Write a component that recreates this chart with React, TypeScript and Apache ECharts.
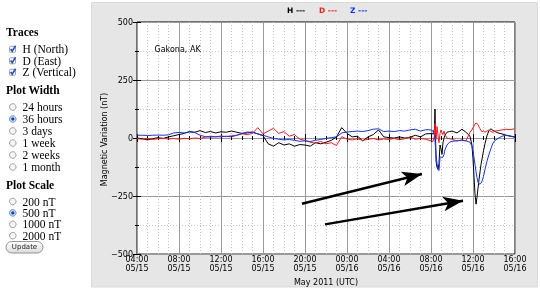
import React, { useEffect, useRef } from "react";
import * as echarts from "echarts";

// Hours after 04:00 UTC on 05/15 (quiet interval, half-hour samples)
const QUIET_HOURS = [
  0, 0.5, 1, 1.5, 2, 2.5, 3, 3.5, 4, 4.5, 5, 5.5, 6, 6.5, 7, 7.5, 8, 8.5, 9, 9.5,
  10, 10.5, 11, 11.5, 12, 12.5, 13, 13.5, 14, 14.5, 15, 15.5, 16, 16.5, 17, 17.5,
  18, 18.5, 19, 19.5, 20, 20.5, 21, 21.5, 22, 22.5, 23, 23.5, 24, 24.5, 25, 25.5,
  26, 26.5, 27, 27.5, 28,
];
// Storm interval, finer samples
const STORM_HOURS = [
  28.19, 28.33, 28.38, 28.48, 28.57, 28.67, 28.76, 28.86, 28.95, 29.05, 29.14,
  29.24, 29.33, 29.52, 29.76, 30, 30.48, 30.95, 31.33, 31.71, 31.9, 32, 32.1,
  32.19, 32.29, 32.38, 32.48, 32.57, 32.67, 32.76, 32.86, 33, 33.14, 33.33, 33.52,
  33.71, 33.9, 34.1, 34.38, 34.76, 35.14, 35.52, 36,
];

const H_QUIET = [
  0, -3, -8, -3, 2, -2, 5, 10, 15, 20, 28, 25, 32, 24, 28, 22, 27, 25, 30, 25, 20,
  22, 26, 18, 10, -25, -35, -20, -30, -25, -35, -28, -30, -35, -20, -25, -18, -10,
  5, 45, 20, 5, 8, -12, 5, 15, 35, 5, 2, 0, 5, 0, 3, 12, 5, 18, 19,
];
const H_STORM = [
  18, 40, 125, -100, -125, -135, -110, -30, -45, -70, -20, 0, 12, 25, 28, 30, 22,
  38, 25, 8, -30, -90, -170, -240, -285, -255, -215, -180, -145, -115, -90, -55,
  -25, 10, 32, 40, 33, 28, 22, 18, 12, 8, 5,
];
const D_QUIET = [
  -3, -5, -2, -6, -3, -1, -4, -2, -5, -1, -3, 0, -2, 4, 8, 5, 9, 6, 10, 12, 18, 15,
  20, 45, 18, 30, 42, 20, 28, 8, 15, -5, -10, -18, -22, -15, -25, -20, -32, 6, -5,
  -8, -3, -10, -5, -2, -8, -4, -6, -2, -7, -3, 5, -5, -2, -5, -12,
];
const D_STORM = [
  -15, 10, 62, -5, 50, 10, -20, 20, 35, 22, 15, 30, 15, 0, -3, -5, -12, -8, -12,
  25, 35, 45, 52, 60, 65, 62, 58, 48, 40, 32, 28, 30, 25, 30, 35, 28, 25, 30, 32,
  35, 38, 36, 40,
];
const Z_QUIET = [
  12, 12, 11, 12, 13, 12, 14, 22, 24, 22, 26, 24, 12, 6, 4, 6, 5, 8, 5, 12, 20, 26,
  24, 18, 12, 5, -2, -5, -8, -6, -10, -14, -12, -15, -10, -6, -2, 2, 5, 22, 26, 28,
  30, 28, 32, 38, 40, 28, 30, 28, 32, 30, 35, 38, 30, 36, 35,
];
const Z_STORM = [
  30, 10, -10, -70, -110, -135, -140, -85, -80, -85, -82, -70, -50, -30, -18, -14,
  -12, -10, -12, -18, -35, -55, -85, -115, -145, -170, -190, -198, -198, -195,
  -185, -165, -135, -100, -70, -45, -22, -10, -2, 8, 12, 10, 2,
];

// Annotation arrows: [startHour, startNT, tipHour, tipNT]
const ARROWS = [
  [15.71, -283, 27.14, -155],
  [17.9, -372, 31.05, -270],
];

const TRACES = ["H (North)", "D (East)", "Z (Vertical)"];
const WIDTHS = ["24 hours", "36 hours", "3 days", "1 week", "2 weeks", "1 month"];
const SCALES = ["200 nT", "500 nT", "1000 nT", "2000 nT"];
const WIDTH_SELECTED = 1;
const SCALE_SELECTED = 1;

const HOURS = [...QUIET_HOURS, ...STORM_HOURS];
const H_VALUES = [...H_QUIET, ...H_STORM];
const D_VALUES = [...D_QUIET, ...D_STORM];
const Z_VALUES = [...Z_QUIET, ...Z_STORM];

const FONT = "DejaVu Sans";
const SERIF = "Liberation Serif";

const pad = (n: number) => (n < 10 ? "0" + n : "" + n);
const timeLabel = (h: number) => {
  const abs = 4 + h;
  const hr = abs % 24;
  const day = 15 + Math.floor(abs / 24);
  return `${pad(hr)}:00\n05/${day}`;
};

function buildPanel() {
  const els: any[] = [];
  const header = (text: string, y: number) =>
    els.push({
      type: "text",
      x: 6,
      y,
      style: {
        text,
        fontFamily: SERIF,
        fontWeight: "bold",
        fontSize: 11.5,
        fill: "#000",
        verticalAlign: "middle",
      },
    });
  const label = (text: string, y: number) =>
    els.push({
      type: "text",
      x: 22.5,
      y,
      style: {
        text,
        fontFamily: SERIF,
        fontSize: 11.5,
        fill: "#000",
        verticalAlign: "middle",
      },
    });
  const checkbox = (y: number) => {
    els.push({
      type: "rect",
      shape: { x: 9.5, y: y - 3, width: 6, height: 6, r: 1 },
      style: { fill: "#fbfbfb", stroke: "#8a8a8a", lineWidth: 0.8 },
    });
    els.push({
      type: "polyline",
      shape: { points: [[10.6, y - 0.3], [12.2, y + 1.8], [15.6, y - 3.6]] },
      style: { stroke: "#1f4fc8", lineWidth: 1.6, fill: null },
    });
  };
  const radio = (y: number, on: boolean) => {
    els.push({
      type: "circle",
      shape: { cx: 12.8, cy: y, r: 3.3 },
      style: {
        fill: on ? "#cfe0fb" : "#f6f6f6",
        stroke: on ? "#4a78c8" : "#8a8a8a",
        lineWidth: 0.8,
      },
    });
    if (on)
      els.push({
        type: "circle",
        shape: { cx: 12.8, cy: y, r: 1.6 },
        style: { fill: "#1b3f9a" },
      });
  };

  header("Traces", 32);
  TRACES.forEach((t, i) => {
    const y = 49.3 + i * 11.5;
    checkbox(y);
    label(t, y);
  });
  header("Plot Width", 90);
  WIDTHS.forEach((t, i) => {
    const y = 107 + i * 12;
    radio(y, i === WIDTH_SELECTED);
    label(t, y);
  });
  header("Plot Scale", 185);
  SCALES.forEach((t, i) => {
    const y = 201.5 + i * 11.4;
    radio(y, i === SCALE_SELECTED);
    label(t, y);
  });
  els.push({
    type: "rect",
    shape: { x: 6, y: 241.5, width: 37, height: 11.5, r: 5.75 },
    style: {
      fill: new echarts.graphic.LinearGradient(0, 0, 0, 1, [
        { offset: 0, color: "#ffffff" },
        { offset: 1, color: "#dcdcdc" },
      ]),
      stroke: "#7d7d7d",
      lineWidth: 0.8,
    },
  });
  els.push({
    type: "text",
    x: 24.5,
    y: 247.3,
    style: {
      text: "Update",
      fontFamily: FONT,
      fontSize: 7,
      fill: "#222",
      align: "center",
      verticalAlign: "middle",
    },
  });
  return els;
}

export default function App() {
  const ref = useRef<HTMLDivElement>(null);
  useEffect(() => {
    if (!ref.current) return;
    const chart = echarts.init(ref.current, undefined, { renderer: "svg" });
    const pairs = (vals: number[]) => HOURS.map((t, i) => [t, vals[i]]);
    const lineSeries = (name: string, color: string, vals: number[], extra: any = {}) => ({
      name,
      type: "line",
      data: pairs(vals),
      showSymbol: false,
      symbol: "none",
      lineStyle: { color, width: 1 },
      itemStyle: { color },
      silent: true,
      z: 3,
      xAxisIndex: 0,
      yAxisIndex: 0,
      ...extra,
    });
    const legendText = (t: string, color: string, x: number) => ({
      type: "text",
      x,
      y: 10.7,
      style: {
        text: t + " ---",
        fontFamily: FONT,
        fontWeight: "bold",
        fontSize: 7.5,
        fill: color,
        verticalAlign: "middle",
      },
    });
    const tickLabelStyle = {
      fontFamily: FONT,
      fontSize: 8,
      color: "#000",
    };
    chart.setOption({
      animation: false,
      backgroundColor: "transparent",
      grid: {
        left: 137,
        right: 25,
        top: 22,
        bottom: 34,
        show: true,
        backgroundColor: "#ffffff",
        borderColor: "#000",
        borderWidth: 1,
      },
      xAxis: [
        {
          type: "value",
          z: 1,
          min: 0,
          max: 36,
          interval: 4,
          axisLine: { show: false },
          axisTick: { show: true, inside: true, length: 4, lineStyle: { color: "#000" } },
          minorTick: { show: true, splitNumber: 4, length: 2, lineStyle: { color: "#000" } },
          splitLine: { show: true, lineStyle: { color: "#9a9a9a", width: 1 } },
          minorSplitLine: { show: true, lineStyle: { color: "#c4c4c4", width: 1, type: [1, 2] } },
          axisLabel: {
            ...tickLabelStyle,
            lineHeight: 9,
            margin: 1,
            formatter: (v: number) => timeLabel(v),
          },
          name: "May 2011 (UTC)",
          nameLocation: "middle",
          nameGap: 21,
          nameTextStyle: { fontFamily: FONT, fontSize: 8, color: "#000" },
        },
        {
          type: "value",
          z: 1,
          position: "top",
          min: 0,
          max: 36,
          interval: 4,
          axisLine: { show: false },
          axisTick: { show: true, inside: true, length: 4, lineStyle: { color: "#000" } },
          minorTick: { show: true, splitNumber: 4, length: 2, lineStyle: { color: "#000" } },
          splitLine: { show: false },
          axisLabel: { show: false },
        },
      ],
      yAxis: [
        {
          type: "value",
          z: 1,
          min: -500,
          max: 500,
          interval: 250,
          axisLine: { show: false },
          axisTick: { show: true, inside: true, length: 4, lineStyle: { color: "#000" } },
          minorTick: { show: true, splitNumber: 2, length: 2, lineStyle: { color: "#000" } },
          splitLine: { show: true, lineStyle: { color: "#9a9a9a", width: 1 } },
          minorSplitLine: { show: true, lineStyle: { color: "#c4c4c4", width: 1, type: [1, 2] } },
          axisLabel: {
            ...tickLabelStyle,
            margin: 4,
            formatter: (v: number) => (v < 0 ? "\u2212" + Math.abs(v) : String(v)),
          },
        },
        {
          type: "value",
          z: 1,
          position: "right",
          min: -500,
          max: 500,
          interval: 250,
          axisLine: { show: false },
          axisTick: { show: true, inside: true, length: 4, lineStyle: { color: "#000" } },
          minorTick: { show: true, splitNumber: 2, length: 2, lineStyle: { color: "#000" } },
          splitLine: { show: false },
          axisLabel: { show: false },
        },
      ],
      graphic: [
        {
          type: "rect",
          z: -10,
          shape: { x: 91.5, y: 2.5, width: 446, height: 284.5 },
          style: { fill: "#e6e6e6", stroke: "#dadada", lineWidth: 1 },
        },
        legendText("H", "#000000", 287),
        legendText("D", "#ff1a1a", 319),
        legendText("Z", "#1530ff", 350),
        {
          type: "text",
          x: 104.5,
          y: 139.5,
          rotation: Math.PI / 2,
          style: {
            text: "Magnetic Variation (nT)",
            fontFamily: FONT,
            fontSize: 8,
            fill: "#000",
            align: "center",
            verticalAlign: "middle",
          },
        },
        {
          type: "text",
          x: 154.5,
          y: 49.5,
          z: 10,
          style: {
            text: "Gakona, AK",
            fontFamily: FONT,
            fontSize: 8,
            fill: "#000",
            verticalAlign: "middle",
          },
        },
        ...buildPanel(),
      ],
      series: [
        lineSeries("H", "#000000", H_VALUES, {
          markLine: {
            silent: true,
            symbol: ["none", "arrow"],
            symbolSize: [11, 20],
            lineStyle: { color: "#000", width: 2.4, type: "solid" },
            label: { show: false },
            emphasis: { disabled: true },
            data: ARROWS.map((a) => [{ coord: [a[0], a[1]] }, { coord: [a[2], a[3]] }]),
          },
        }),
        lineSeries("D", "#ff1a1a", D_VALUES),
        lineSeries("Z", "#1530ff", Z_VALUES),
      ],
    });
    return () => chart.dispose();
  }, []);
  return (
    <div
      ref={ref}
      style={{ position: "fixed", left: 0, top: 0, width: 540, height: 291 }}
    />
  );
}
